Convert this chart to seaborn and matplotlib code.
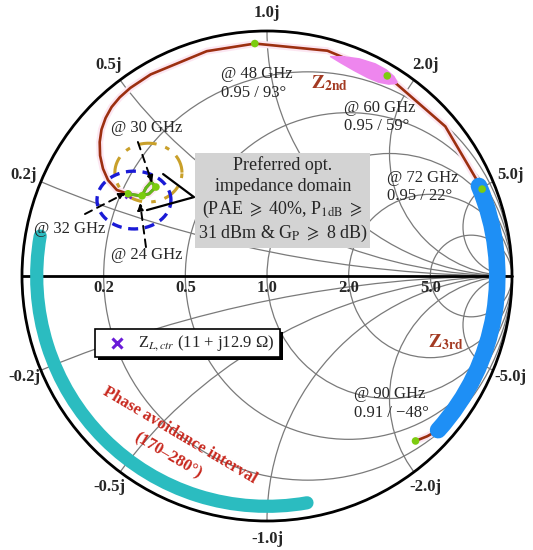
import numpy as np
import pandas as pd
import matplotlib.pyplot as plt
import matplotlib.patches as mpatches
import seaborn as sns

# load reflection coefficient trace, 24 GHz -> 90 GHz (|G|, phase in deg)
trace_mag = [0.606, 0.611, 0.609, 0.581, 0.587, 0.613, 0.659, 0.706, 0.758, 0.800, 0.840,
             0.875, 0.902, 0.922, 0.937, 0.945, 0.949, 0.950, 0.950, 0.950, 0.952, 0.953,
             0.950, 0.947, 0.945, 0.942, 0.940, 0.925, 0.906]
trace_ang = [147.3, 144.0, 140.9, 141.3, 145.2, 147.7, 149.4, 150.2, 148.9, 146.8, 144.2,
             141.3, 138.5, 135.6, 132.6, 129.5, 126.0, 120.0, 105.0, 93.0, 75.0, 59.0,
             40.0, 22.0, 0.0, -25.0, -42.0, -45.0, -48.0]

# marked frequency points
mark_freq = [24, 30, 32, 48, 60, 72, 90]
mark_mag = [0.606, 0.581, 0.659, 0.950, 0.953, 0.947, 0.906]
mark_ang = [147.3, 141.3, 149.4, 93.0, 59.0, 22.0, -48.0]

# smith chart grid
r_values = [0.2, 0.5, 1.0, 2.0, 5.0]
x_values = [0.2, 0.5, 1.0, 2.0, 5.0]

# highlighted phase ranges (deg) and their radius
avoid_range = [170, 280]
z3rd_range = [-42, 23]
band_radius = 0.94

# 2nd harmonic highlight (violet wedge around 60 GHz)
wedge_ang = [74, 71, 67, 63, 60, 57.5, 56]
wedge_in = [0.930, 0.918, 0.908, 0.905, 0.910, 0.925, 0.945]
wedge_out = [0.934, 0.950, 0.966, 0.975, 0.975, 0.968, 0.955]

# optimum impedance contours (center G, radii)
pae_center = [-0.484, 0.422]
pae_radii = [0.137, 0.120]
p1db_center = [-0.543, 0.310]
p1db_radii = [0.151, 0.118]

# load impedance at the centre frequency (ohm)
zl_ctr = [11.0, 12.9]
z0 = 50.0


def to_xy(mag, ang):
    a = np.deg2rad(np.asarray(ang, dtype=float))
    m = np.asarray(mag, dtype=float)
    return m * np.cos(a), m * np.sin(a)


sns.set_theme(style='white')
plt.rcParams['font.family'] = ['Liberation Serif', 'DejaVu Sans']
plt.rcParams['mathtext.fontset'] = 'stix'

fig = plt.figure(figsize=(5.33, 5.5), dpi=100)
ax = fig.add_axes([0, 0, 1, 1])
ax.set_xlim(-267 / 245, 266 / 245)
ax.set_ylim(-274 / 245, 276 / 245)
ax.axis('off')

grid_c = '#7a7a7a'
clip = mpatches.Circle((0, 0), 1, transform=ax.transData)

# constant resistance circles
for r in r_values:
    ax.add_patch(mpatches.Circle((r / (1 + r), 0), 1 / (1 + r), fill=False,
                                 ec=grid_c, lw=0.9, zorder=1))
    ax.text((r - 1) / (r + 1), -0.05, f'{r:.1f}', ha='center', va='center',
            fontsize=12, fontweight='bold', zorder=8)

# constant reactance arcs
for x in x_values:
    for s in (1, -1):
        c = mpatches.Circle((1, s / x), 1 / x, fill=False, ec=grid_c, lw=0.9, zorder=1)
        ax.add_patch(c)
        c.set_clip_path(clip)
        g = (1j * s * x - 1) / (1j * s * x + 1) * 1.075
        lab = f'{x:.1f}j' if s > 0 else f'-{x:.1f}j'
        ax.text(g.real, g.imag, lab, ha='center', va='center',
                fontsize=12, fontweight='bold', zorder=8)

ax.add_patch(mpatches.Circle((0, 0), 1, fill=False, ec='black', lw=2.0, zorder=2))
ax.plot([-1, 1], [0, 0], color='black', lw=2.0, zorder=2)

# load trace
tx, ty = to_xy(trace_mag, trace_ang)
trace = pd.DataFrame({'x': tx, 'y': ty})
sns.lineplot(data=trace, x='x', y='y', sort=False, estimator=None, ax=ax,
             color='#fce6f1', lw=5, zorder=3)
sns.lineplot(data=trace, x='x', y='y', sort=False, estimator=None, ax=ax,
             color='#9c2f10', lw=1.9, zorder=3.1)
# fundamental band segment (24-32 GHz)
sns.lineplot(data=trace.iloc[:7], x='x', y='y', sort=False, estimator=None, ax=ax,
             color='#62b81a', lw=2.2, zorder=3.2)

# phase avoidance band and 3rd harmonic band
ax.add_patch(mpatches.Arc((0, 0), 2 * band_radius, 2 * band_radius,
                          theta1=avoid_range[0], theta2=avoid_range[1],
                          color='#2bbcc0', lw=9.5, capstyle='round', zorder=4))
ax.add_patch(mpatches.Arc((0, 0), 2 * band_radius, 2 * band_radius,
                          theta1=z3rd_range[0], theta2=z3rd_range[1],
                          color='#1e8ff5', lw=12, capstyle='round', zorder=4))

# violet wedge at 60 GHz
wx_o, wy_o = to_xy(wedge_out, wedge_ang)
wx_i, wy_i = to_xy(wedge_in, wedge_ang)
ax.fill(np.r_[wx_o, wx_i[::-1]], np.r_[wy_o, wy_i[::-1]], color='#ee86ee',
        lw=0, zorder=4)

# optimum contours
t = np.linspace(0, 2 * np.pi, 200)
ax.plot(pae_center[0] + pae_radii[0] * np.cos(t), pae_center[1] + pae_radii[1] * np.sin(t),
        color='#c9a02a', lw=2.2, ls=(0, (6, 3, 1.5, 3)), zorder=5)
ax.plot(p1db_center[0] + p1db_radii[0] * np.cos(t), p1db_center[1] + p1db_radii[1] * np.sin(t),
        color='#1a1ad6', lw=2.4, ls=(0, (3, 2)), zorder=5)

# frequency markers
mx, my = to_xy(mark_mag, mark_ang)
sns.scatterplot(x=mx, y=my, ax=ax, color='#7ccc10', s=30, edgecolor='none', zorder=7)

# Z_L,ctr point
zn = complex(zl_ctr[0], zl_ctr[1]) / z0
gl = (zn - 1) / (zn + 1)
ax.plot(gl.real, gl.imag, marker='x', color='#6a1bd8', ms=5, mew=1.8, zorder=6)

# frequency arrows
arr = dict(arrowstyle='-|>', color='black', lw=1.4, ls=(0, (4, 3)),
           mutation_scale=10, shrinkA=0, shrinkB=0)
ax.annotate('', xy=(-0.469, 0.380), xytext=(-0.527, 0.547), arrowprops=arr, zorder=7)
ax.annotate('', xy=(-0.576, 0.339), xytext=(-0.743, 0.253), arrowprops=arr, zorder=7)
ax.annotate('', xy=(-0.518, 0.298), xytext=(-0.494, 0.118), arrowprops=arr, zorder=7)

# preferred domain box with pointer
ax.plot([-0.424, -0.298, -0.490], [0.416, 0.322, 0.269], color='black', lw=1.6, zorder=6)
ax.add_patch(mpatches.Rectangle((-0.292, 0.114), 0.714, 0.388, fc='#d3d3d3',
                                ec='none', zorder=6))
ax.text(0.065, 0.308,
        'Preferred opt.\nimpedance domain\n'
        r'(PAE $\geqslant$ 40%, P$_{\mathrm{1dB}}$ $\geqslant$' '\n'
        r'31 dBm & G$_{\mathrm{P}}$ $\geqslant$ 8 dB)',
        ha='center', va='center', fontsize=13, linespacing=1.25, zorder=7)

# frequency annotations
notes = [('@ 48 GHz\n0.95 / 93°', -0.188, 0.786),
         ('@ 60 GHz\n0.95 / 59°', 0.314, 0.649),
         ('@ 72 GHz\n0.95 / 22°', 0.490, 0.363),
         ('@ 90 GHz\n0.91 / \u221248°', 0.355, -0.520)]
for txt, x, y in notes:
    ax.text(x, y, txt, ha='left', va='center', fontsize=12, linespacing=1.2, zorder=8)
ax.text(-0.490, 0.604, '@ 30 GHz', ha='center', va='center', fontsize=12, zorder=8)
ax.text(-0.804, 0.192, '@ 32 GHz', ha='center', va='center', fontsize=12, zorder=8)
ax.text(-0.490, 0.086, '@ 24 GHz', ha='center', va='center', fontsize=12, zorder=8)

ax.text(0.257, 0.788, r'$\mathbf{Z_{2nd}}$', color='#a33a22', fontsize=14,
        ha='center', va='center', zorder=8)
ax.text(0.731, -0.269, r'$\mathbf{Z_{3rd}}$', color='#a33a22', fontsize=14,
        ha='center', va='center', zorder=8)

ax.text(-0.355, -0.649, 'Phase avoidance interval', color='#c8281e', fontsize=12,
        fontweight='bold', rotation=-30.6, ha='center', va='center', zorder=8)
ax.text(-0.404, -0.735, '(170\u2013280°)', color='#c8281e', fontsize=12,
        fontweight='bold', rotation=-30.6, ha='center', va='center', zorder=8)

# legend box with shadow
ax.add_patch(mpatches.Rectangle((-0.690, -0.343), 0.755, 0.115, fc='black', ec='none', zorder=8))
ax.add_patch(mpatches.Rectangle((-0.702, -0.331), 0.755, 0.115, fc='white', ec='black',
                                lw=1.2, zorder=8.5))
ax.plot(-0.612, -0.272, marker='x', color='#6a1bd8', ms=7, mew=2.2, zorder=9)
ax.text(-0.525, -0.273, r'Z$_{\mathit{L,ctr}}$ (11 + j12.9 Ω)', ha='left', va='center',
        fontsize=12, zorder=9)

fig.savefig('out.png', dpi=100)
